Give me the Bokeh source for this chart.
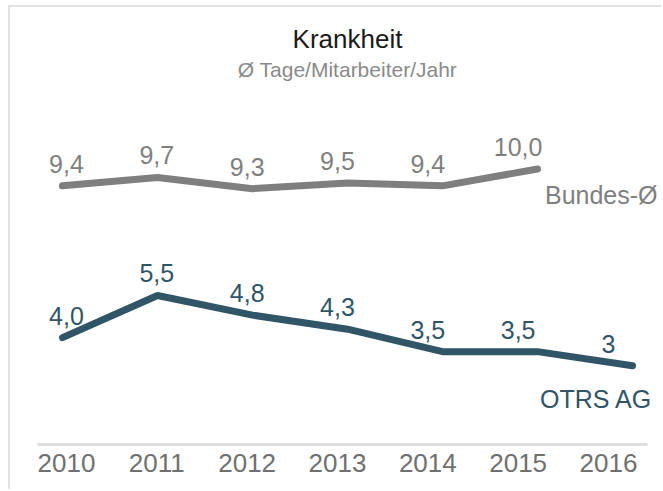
from bokeh.plotting import figure
from bokeh.models import ColumnDataSource, LabelSet, Label, LinearAxis, Range1d, FixedTicker
from bokeh.core.properties import value
from bokeh.embed import file_html
from bokeh.resources import INLINE

# ---- data ----
years = [2010, 2011, 2012, 2013, 2014, 2015, 2016]
otrs_values = [4.0, 5.5, 4.8, 4.3, 3.5, 3.5, 3.0]
otrs_labels = ["4,0", "5,5", "4,8", "4,3", "3,5", "3,5", "3"]
bund_years = [2010, 2011, 2012, 2013, 2014, 2015]
bund_values = [9.4, 9.7, 9.3, 9.5, 9.4, 10.0]
bund_labels = ["9,4", "9,7", "9,3", "9,5", "9,4", "10,0"]
title_text = "Krankheit"
subtitle_text = "Ø Tage/Mitarbeiter/Jahr"
bund_name = "Bundes-Ø"
otrs_name = "OTRS AG"

FONT = "Liberation Sans"
GRAY = "#7f7f7f"
TEAL = "#2f5567"

p = figure(width=653, height=484, output_backend="svg", toolbar_location=None,
           x_range=Range1d(2009.737, 2016.326), y_range=Range1d(0.196, 15.747),
           x_axis_location=None, y_axis_location=None,
           min_border_left=27, min_border_right=0, min_border_top=0, min_border_bottom=47)
p.outline_line_color = None
p.xgrid.visible = False
p.ygrid.visible = False
p.background_fill_color = "white"
p.border_fill_color = "white"
p.styles = {"margin-left": "8px", "margin-top": "5px",
            "border-left": "2px solid #e2e2e2", "border-top": "2px solid #e2e2e2"}

# category label scale (labels sit on a slightly different grid than the line points)
p.extra_x_ranges = {"labels": Range1d(2009.679, 2016.609)}

ax = LinearAxis(x_range_name="labels", ticker=FixedTicker(ticks=years))
ax.bounds = (2009.679, 2016.432)
ax.axis_line_color = "#dedede"
ax.axis_line_width = 3
ax.major_tick_line_color = None
ax.minor_tick_line_color = None
ax.major_tick_out = 0
ax.major_tick_in = 0
ax.major_label_text_font = FONT
ax.major_label_text_font_size = "26px"
ax.major_label_text_color = "#707070"
ax.major_label_standoff = 9
p.add_layout(ax, "below")

bund_src = ColumnDataSource(dict(x=bund_years, y=bund_values, label=bund_labels))
otrs_src = ColumnDataSource(dict(x=years, y=otrs_values, label=otrs_labels))

p.line(x="x", y="y", source=bund_src, line_color=GRAY, line_width=7, line_cap="round")
p.line(x="x", y="y", source=otrs_src, line_color=TEAL, line_width=7, line_cap="round")

for src, col in ((bund_src, GRAY), (otrs_src, TEAL)):
    p.add_layout(LabelSet(x="x", y="y", text="label", source=src, x_range_name="labels",
                          text_align="center", text_baseline="alphabetic", y_offset=13,
                          text_font=value(FONT), text_font_size="25px", text_color=col))

p.add_layout(Label(x=bund_years[-1], y=bund_values[-1], x_offset=120, y_offset=-26,
                   text=bund_name, text_align="right", text_baseline="alphabetic",
                   text_font=FONT, text_font_size="25px", text_color=GRAY))
p.add_layout(Label(x=years[-1], y=otrs_values[-1], x_offset=20, y_offset=-33,
                   text=otrs_name, text_align="right", text_baseline="alphabetic",
                   text_font=FONT, text_font_size="25px", text_color=TEAL))

mid_year = (years[0] + years[-1]) / 2
p.add_layout(Label(x=mid_year, y=p.y_range.end, y_offset=-31, text=title_text,
                   text_align="center", text_baseline="alphabetic",
                   text_font=FONT, text_font_size="26px", text_color="#1a1a1a"))
p.add_layout(Label(x=mid_year, y=p.y_range.end, y_offset=-62, text=subtitle_text,
                   text_align="center", text_baseline="alphabetic",
                   text_font=FONT, text_font_size="21px", text_color="#8a8a8a"))

open("out.html", "w").write(file_html(p, INLINE))
